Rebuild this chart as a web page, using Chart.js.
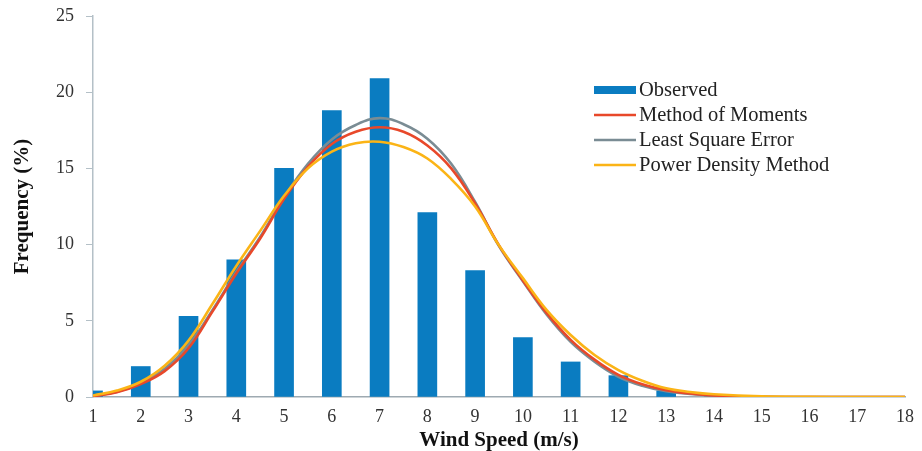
<!DOCTYPE html>
<html>
<head>
<meta charset="utf-8">
<title>Wind Speed Frequency</title>
<script src="https://cdn.jsdelivr.net/npm/chart.js@4"></script>
<style>
  html, body { margin: 0; padding: 0; background: #ffffff; }
  #wrap { width: 922px; height: 451px; }
</style>
</head>
<body>
<div id="wrap"><canvas id="chart"></canvas></div>
<script>
// Observed frequency per wind speed bin
const speeds = [1, 2, 3, 4, 5, 6, 7, 8, 9, 10, 11, 12, 13, 14, 15, 16, 17, 18];
const observed = [0.4, 2.0, 5.3, 9.0, 15.0, 18.8, 20.9, 12.1, 8.3, 3.9, 2.3, 1.4, 0.4, 0, 0, 0, 0, 0];

// Fitted curves
const curveX = [1, 1.5, 2, 2.5, 3, 3.5, 4, 4.5, 5, 5.5, 6, 6.5, 7, 7.5, 8, 8.5, 9, 9.5, 10, 10.5, 11, 11.5, 12, 12.5, 13, 13.5, 14, 15, 16, 17, 18];
const momValues = [0.05, 0.32, 0.85, 1.7, 3.2, 5.6, 8.1, 10.4, 13.0, 15.1, 16.6, 17.4, 17.7, 17.4, 16.5, 15.0, 12.7, 9.95, 7.65, 5.5, 3.75, 2.45, 1.45, 0.83, 0.45, 0.23, 0.1, 0.02, 0, 0, 0];
const lseValues = [0.05, 0.35, 0.9, 1.85, 3.4, 5.7, 8.2, 10.5, 13.1, 15.3, 16.9, 17.85, 18.3, 17.9, 16.95, 15.3, 12.8, 9.9, 7.6, 5.4, 3.62, 2.32, 1.33, 0.74, 0.38, 0.2, 0.09, 0.01, 0, 0, 0];
const pdmValues = [0.1, 0.42, 1.0, 2.05, 3.7, 6.1, 8.6, 10.9, 13.2, 15.0, 16.1, 16.65, 16.75, 16.4, 15.65, 14.3, 12.5, 9.95, 7.8, 5.7, 4.07, 2.76, 1.77, 1.07, 0.57, 0.33, 0.18, 0.04, 0.01, 0, 0];

const yTicks = [0, 5, 10, 15, 20, 25];

const toPoints = (xs, ys) => xs.map((x, i) => ({ x: x, y: ys[i] }));

const serif = "'Liberation Serif', 'Times New Roman', serif";

// legend drawn inside the plot, like the original
const insideLegend = {
  id: 'insideLegend',
  afterDraw(chart) {
    const ctx = chart.ctx;
    const x0 = 594, x1 = 636, textX = 639;
    const rows = [90, 115, 140, 165];
    ctx.save();
    ctx.font = '20.5px ' + serif;
    ctx.textBaseline = 'middle';
    ctx.textAlign = 'left';
    chart.data.datasets.forEach((ds, i) => {
      const y = rows[i];
      if (ds.type === 'line') {
        ctx.strokeStyle = ds.borderColor;
        ctx.lineWidth = 2.5;
        ctx.beginPath();
        ctx.moveTo(x0, y);
        ctx.lineTo(x1, y);
        ctx.stroke();
      } else {
        ctx.fillStyle = ds.backgroundColor;
        ctx.fillRect(x0, y - 4, x1 - x0, 8);
      }
      ctx.fillStyle = '#222222';
      ctx.fillText(ds.label, textX, y + 1);
    });
    ctx.restore();
  }
};

const ctx = document.getElementById('chart').getContext('2d');
const chart = new Chart(ctx, {
  type: 'bar',
  data: {
    datasets: [
      {
        label: 'Observed',
        type: 'bar',
        data: toPoints(speeds, observed),
        backgroundColor: '#0a7cc1',
        barThickness: 19,
        order: 4
      },
      {
        label: 'Method of Moments',
        type: 'line',
        data: toPoints(curveX, momValues),
        borderColor: '#e8482a',
        borderWidth: 2.6,
        pointRadius: 0,
        fill: false,
        tension: 0.4,
        order: 2
      },
      {
        label: 'Least Square Error',
        type: 'line',
        data: toPoints(curveX, lseValues),
        borderColor: '#7a8c94',
        borderWidth: 2.6,
        pointRadius: 0,
        fill: false,
        tension: 0.4,
        order: 3
      },
      {
        label: 'Power Density Method',
        type: 'line',
        data: toPoints(curveX, pdmValues),
        borderColor: '#fbb416',
        borderWidth: 2.6,
        pointRadius: 0,
        fill: false,
        tension: 0.4,
        order: 1
      }
    ]
  },
  options: {
    responsive: true,
    maintainAspectRatio: false,
    animation: false,
    layout: { padding: { top: 16, right: 17, bottom: 0, left: 0 } },
    plugins: {
      legend: { display: false },
      tooltip: { enabled: false }
    },
    scales: {
      x: {
        type: 'linear',
        min: 1,
        max: 18,
        offset: false,
        grid: { display: false, offset: false },
        border: { display: true, color: '#9eaab1', width: 1.5 },
        ticks: {
          stepSize: 1,
          color: '#333333',
          padding: 1,
          maxRotation: 0,
          font: { family: serif, size: 18 }
        },
        title: {
          display: true,
          text: 'Wind Speed (m/s)',
          color: '#111111',
          padding: { top: 0, bottom: 0 },
          font: { family: serif, size: 21, weight: 'bold', lineHeight: 1.0 }
        },
        afterFit: s => { s.height = 54; }
      },
      y: {
        min: 0,
        max: 25,
        afterBuildTicks: s => { s.ticks = yTicks.map(v => ({ value: v })); },
        grid: {
          display: true,
          drawOnChartArea: false,
          drawTicks: true,
          tickLength: 7,
          color: '#b4c0c7'
        },
        border: { display: true, color: '#b4c0c7', width: 1.5 },
        ticks: {
          color: '#333333',
          padding: 12,
          font: { family: serif, size: 18 }
        },
        title: {
          display: true,
          text: 'Frequency (%)',
          color: '#111111',
          padding: { top: 12, bottom: 0 },
          font: { family: serif, size: 21, weight: 'bold', lineHeight: 1.0 }
        },
        afterFit: s => { s.width = 93; s.paddingTop = 0; s.paddingBottom = 0; }
      }
    }
  },
  plugins: [insideLegend]
});
</script>
</body>
</html>
